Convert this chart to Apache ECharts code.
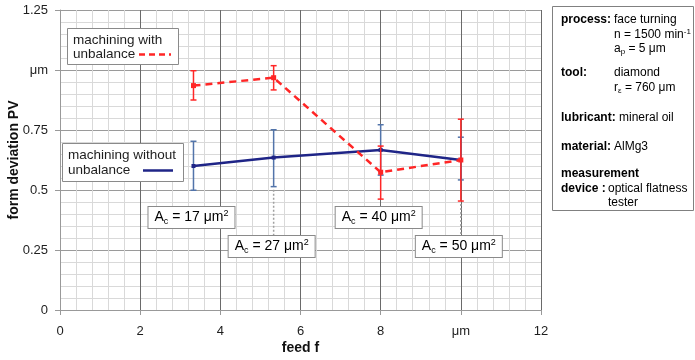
<!DOCTYPE html>
<html><head><meta charset="utf-8">
<script src="https://cdn.jsdelivr.net/npm/echarts@6/dist/echarts.min.js"></script>
<style>html,body{margin:0;padding:0;background:#fff}#c{width:695px;height:360px}</style>
</head><body><div id="c"></div>
<script>
// ---- data ----
const feed = [3.33, 5.33, 8, 10];
const pvWithout = [0.600, 0.635, 0.667, 0.625];
const errWithoutLow = [0.499, 0.514, 0.562, 0.542];
const errWithoutHigh = [0.703, 0.751, 0.772, 0.720];
const pvWith = [0.935, 0.968, 0.574, 0.625];
const errWithLow = [0.875, 0.917, 0.462, 0.454];
const errWithHigh = [0.997, 1.018, 0.683, 0.795];
const areaValues = ['17', '27', '40', '50'];
const calloutFrom = [null, errWithoutLow[1], null, errWithLow[3]];
const xTickLabels = {0:'0', 2:'2', 4:'4', 6:'6', 8:'8', 10:'μm', 12:'12'};
const yTickLabels = {0:'0', 0.25:'0.25', 0.5:'0.5', 0.75:'0.75', 1:'μm', 1.25:'1.25'};

// ---- style ----
const FONT = '"Liberation Sans", Arial, Helvetica, sans-serif';
const BLUE = '#1f2587', BLUE_ERR = '#5274aa', RED = '#ff2626', TXT = '#1e1e1e';

const chart = echarts.init(document.getElementById('c'));

function errorSeries(color, lo, hi, z) {
  return {
    type: 'custom', z, silent: true,
    data: feed.map((f, i) => [f, lo[i], hi[i]]),
    encode: {x: 0, y: [1, 2]},
    renderItem(params, api) {
      const x = api.value(0);
      const a = api.coord([x, api.value(1)]);
      const b = api.coord([x, api.value(2)]);
      const w = 3;
      const st = {stroke: color, lineWidth: 1.5};
      return {type: 'group', children: [
        {type: 'line', shape: {x1: a[0], y1: a[1], x2: b[0], y2: b[1]}, style: st},
        {type: 'line', shape: {x1: a[0] - w, y1: a[1], x2: a[0] + w, y2: a[1]}, style: st},
        {type: 'line', shape: {x1: b[0] - w, y1: b[1], x2: b[0] + w, y2: b[1]}, style: st}
      ]};
    }
  };
}

const richBox = {
  m: {fontSize: 14, lineHeight: 17, fontFamily: FONT, color: TXT},
  sub: {fontSize: 9, lineHeight: 9, verticalAlign: 'bottom', fontFamily: FONT, color: TXT},
  sup: {fontSize: 9, lineHeight: 9, verticalAlign: 'top', fontFamily: FONT, color: TXT}
};

const boxSeries = {
  type: 'custom', z: 6, silent: true,
  data: feed.map((f, i) => [f, i]),
  encode: {x: 0},
  renderItem(params, api) {
    const i = params.dataIndex;
    const x = api.value(0);
    const level = (i % 2 === 0) ? 0.385 : 0.265;
    const p = api.coord([x, level]);
    const children = [];
    if (calloutFrom[i] != null) {
      const s = api.coord([x, calloutFrom[i]]);
      children.push({type: 'line', shape: {x1: s[0], y1: s[1] + 3, x2: s[0], y2: p[1] - 11},
        style: {stroke: '#a0a0a0', lineWidth: 1.5, lineDash: [2, 2]}});
    }
    children.push({type: 'text', x: p[0] - 2, y: p[1], style: {
      text: '{m|A}{sub|c}{m| = ' + areaValues[i] + ' μm}{sup|2}',
      rich: richBox, align: 'center', verticalAlign: 'middle',
      backgroundColor: '#fff', borderColor: '#8a8a8a', borderWidth: 1, padding: [2, 6, 2, 6]
    }});
    return {type: 'group', children};
  }
};

const richP = {
  b: {fontSize: 12, fontWeight: 'bold', fontFamily: FONT, color: TXT, lineHeight: 14},
  v: {fontSize: 12, fontFamily: FONT, color: TXT, lineHeight: 14},
  sub: {fontSize: 8, lineHeight: 8, verticalAlign: 'bottom', fontFamily: FONT, color: TXT},
  sup: {fontSize: 8, lineHeight: 8, verticalAlign: 'top', fontFamily: FONT, color: TXT}
};
function ptext(x, y, t) {
  return {type: 'text', x, y, z: 20, style: {text: t, rich: richP, verticalAlign: 'middle', align: 'left'}};
}
const legText = (x, y, t) => ({type: 'text', x, y, z: 20,
  style: {text: t, fontSize: 13.5, fontFamily: FONT, fill: TXT, verticalAlign: 'middle'}});

const option = {
  animation: false,
  backgroundColor: '#fff',
  grid: {left: 60, right: 154, top: 10, bottom: 50, containLabel: false, outerBoundsMode: 'none'},
  xAxis: {
    type: 'value', min: 0, max: 12, interval: 2,
    name: 'feed f', nameLocation: 'middle', nameGap: 31, nameMoveOverlap: false,
    nameTextStyle: {fontWeight: 'bold', fontSize: 14, color: '#111', fontFamily: FONT},
    axisLine: {show: true, lineStyle: {color: '#999'}},
    axisTick: {show: true, length: 5, lineStyle: {color: '#999'}},
    axisLabel: {margin: 15, fontSize: 13, color: TXT, fontFamily: FONT,
      formatter: v => xTickLabels[v] !== undefined ? xTickLabels[v] : ''},
    splitLine: {show: true, lineStyle: {color: '#6a6a6a', width: 1}},
    minorTick: {show: false, splitNumber: 5},
    minorSplitLine: {show: true, lineStyle: {color: '#d9d9d9', width: 1}}
  },
  yAxis: {
    type: 'value', min: 0, max: 1.25, interval: 0.25,
    name: 'form deviation PV', nameLocation: 'middle', nameGap: 39, nameMoveOverlap: false,
    nameTextStyle: {fontWeight: 'bold', fontSize: 14, color: '#111', fontFamily: FONT},
    axisLine: {show: true, lineStyle: {color: '#999'}},
    axisTick: {show: true, length: 5, lineStyle: {color: '#999'}},
    axisLabel: {margin: 12, fontSize: 13, color: TXT, fontFamily: FONT,
      formatter: v => { const k = Math.round(v * 100) / 100; return yTickLabels[k] !== undefined ? yTickLabels[k] : ''; }},
    splitLine: {show: true, lineStyle: {color: '#9a9a9a', width: 1}},
    minorTick: {show: false, splitNumber: 5},
    minorSplitLine: {show: true, lineStyle: {color: '#d9d9d9', width: 1}}
  },
  series: [
    errorSeries(BLUE_ERR, errWithoutLow, errWithoutHigh, 2),
    {type: 'line', name: 'machining without unbalance', z: 3,
      data: feed.map((f, i) => [f, pvWithout[i]]),
      lineStyle: {color: BLUE, width: 2.5}, itemStyle: {color: BLUE},
      symbol: 'rect', symbolSize: 4, showSymbol: true},
    errorSeries(RED, errWithLow, errWithHigh, 4),
    {type: 'line', name: 'machining with unbalance', z: 5,
      data: feed.map((f, i) => [f, pvWith[i]]),
      lineStyle: {color: RED, width: 2.5, type: [7, 5]}, itemStyle: {color: RED},
      symbol: 'rect', symbolSize: 5, showSymbol: true},
    boxSeries
  ],
  graphic: [
    // legend box: with unbalance
    {type: 'rect', z: 15, shape: {x: 67.5, y: 28.5, width: 111, height: 36},
      style: {fill: '#fff', stroke: '#8a8a8a', lineWidth: 1}},
    legText(73, 40, 'machining with'),
    legText(73, 54.5, 'unbalance'),
    {type: 'line', z: 20, shape: {x1: 139, y1: 54.5, x2: 171, y2: 54.5},
      style: {stroke: RED, lineWidth: 2.5, lineDash: [6, 4]}},
    // legend box: without unbalance
    {type: 'rect', z: 15, shape: {x: 62.5, y: 143.5, width: 121, height: 38},
      style: {fill: '#fff', stroke: '#8a8a8a', lineWidth: 1}},
    legText(68, 155.5, 'machining without'),
    legText(68, 170.5, 'unbalance'),
    {type: 'line', z: 20, shape: {x1: 143, y1: 170.5, x2: 173, y2: 170.5},
      style: {stroke: BLUE, lineWidth: 2.5}},
    // info panel
    {type: 'rect', z: 15, shape: {x: 552.5, y: 6.5, width: 141, height: 204},
      style: {fill: '#fff', stroke: '#808080', lineWidth: 1}},
    ptext(561, 20, '{b|process:}'),
    ptext(614, 20, '{v|face turning}'),
    ptext(614, 35, '{v|n = 1500 min}{sup|-1}'),
    ptext(614, 49, '{v|a}{sub|p}{v| = 5 μm}'),
    ptext(561, 73, '{b|tool:}'),
    ptext(614, 73, '{v|diamond}'),
    ptext(614, 88, '{v|r}{sub|ε}{v| = 760 μm}'),
    ptext(561, 118, '{b|lubricant:}{v| mineral oil}'),
    ptext(561, 147, '{b|material:}'),
    ptext(614, 147, '{v|AlMg3}'),
    ptext(561, 174, '{b|measurement}'),
    ptext(561, 189, '{b|device :}'),
    ptext(608, 189, '{v|optical flatness}'),
    ptext(608, 203, '{v|tester}')
  ]
};
chart.setOption(option);
</script>
</body></html>
